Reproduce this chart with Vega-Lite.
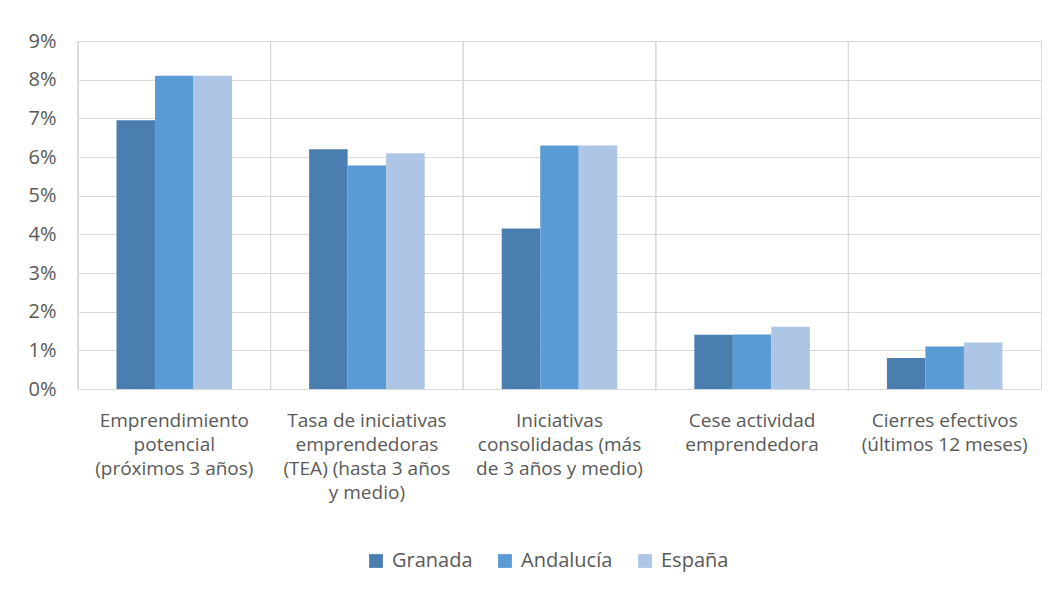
{
  "$schema": "https://vega.github.io/schema/vega-lite/v6.json",
  "width": 963,
  "height": 348,
  "autosize": {"type": "none"},
  "padding": {"left": 78, "top": 41, "right": 21, "bottom": 203},
  "background": "white",
  "config": {
    "view": {"stroke": "#d9d9d9", "strokeWidth": 1},
    "font": "Open Sans"
  },
  "data": {
    "values": [
      {"cat": "Emprendimiento|potencial|(próximos 3 años)", "serie": "Granada", "v": 0.0695},
      {"cat": "Emprendimiento|potencial|(próximos 3 años)", "serie": "Andalucía", "v": 0.081},
      {"cat": "Emprendimiento|potencial|(próximos 3 años)", "serie": "España", "v": 0.081},
      {"cat": "Tasa de iniciativas|emprendedoras|(TEA) (hasta 3 años|y medio)", "serie": "Granada", "v": 0.062},
      {"cat": "Tasa de iniciativas|emprendedoras|(TEA) (hasta 3 años|y medio)", "serie": "Andalucía", "v": 0.0578},
      {"cat": "Tasa de iniciativas|emprendedoras|(TEA) (hasta 3 años|y medio)", "serie": "España", "v": 0.061},
      {"cat": "Iniciativas|consolidadas (más|de 3 años y medio)", "serie": "Granada", "v": 0.0415},
      {"cat": "Iniciativas|consolidadas (más|de 3 años y medio)", "serie": "Andalucía", "v": 0.063},
      {"cat": "Iniciativas|consolidadas (más|de 3 años y medio)", "serie": "España", "v": 0.063},
      {"cat": "Cese actividad|emprendedora", "serie": "Granada", "v": 0.014},
      {"cat": "Cese actividad|emprendedora", "serie": "Andalucía", "v": 0.0141},
      {"cat": "Cese actividad|emprendedora", "serie": "España", "v": 0.0161},
      {"cat": "Cierres efectivos|(últimos 12 meses)", "serie": "Granada", "v": 0.008},
      {"cat": "Cierres efectivos|(últimos 12 meses)", "serie": "Andalucía", "v": 0.011},
      {"cat": "Cierres efectivos|(últimos 12 meses)", "serie": "España", "v": 0.012}
    ]
  },
  "layer": [
    {
      "mark": {"type": "rule", "color": "#d9d9d9", "strokeWidth": 1},
      "encoding": {
        "x": {"field": "cat", "type": "nominal", "sort": null, "bandPosition": 0}
      }
    },
    {
      "mark": {"type": "bar"},
      "encoding": {
        "x": {
          "field": "cat",
          "type": "nominal",
          "sort": null,
          "scale": {"paddingInner": 0, "paddingOuter": 0},
          "axis": {
            "title": null,
            "labelAngle": 0,
            "labelExpr": "split(datum.label, '|')",
            "labelFontSize": 19,
            "labelColor": "#595959",
            "labelLineHeight": 24,
            "labelPadding": 37,
            "labelLimit": 0,
            "labelAlign": "center",
            "labelBaseline": "alphabetic",
            "labelOverlap": false,
            "ticks": false,
            "domain": false,
            "grid": false
          }
        },
        "xOffset": {
          "field": "serie",
          "type": "nominal",
          "sort": ["Granada", "Andalucía", "España"],
          "scale": {"paddingInner": 0, "paddingOuter": 1.1}
        },
        "y": {
          "field": "v",
          "type": "quantitative",
          "scale": {"domain": [0, 0.09]},
          "axis": {
            "title": null,
            "format": ".0%",
            "values": [0, 0.01, 0.02, 0.03, 0.04, 0.05, 0.06, 0.07, 0.08, 0.09],
            "labelFontSize": 20,
            "labelColor": "#595959",
            "labelPadding": 22,
            "ticks": false,
            "domain": false,
            "grid": true,
            "gridColor": "#d9d9d9",
            "gridWidth": 1
          }
        },
        "color": {
          "field": "serie",
          "type": "nominal",
          "sort": ["Granada", "Andalucía", "España"],
          "scale": {
            "domain": ["Granada", "Andalucía", "España"],
            "range": ["#4a7eb0", "#5b9bd5", "#adc6e5"]
          },
          "legend": {
            "title": null,
            "orient": "none",
            "direction": "horizontal",
            "legendX": 288,
            "legendY": 510,
            "symbolType": "square",
            "symbolSize": 190,
            "symbolStrokeWidth": 0,
            "labelFontSize": 20,
            "labelColor": "#595959",
            "columnPadding": 22,
            "symbolOffset": 0,
            "labelOffset": 6
          }
        }
      }
    }
  ]
}
